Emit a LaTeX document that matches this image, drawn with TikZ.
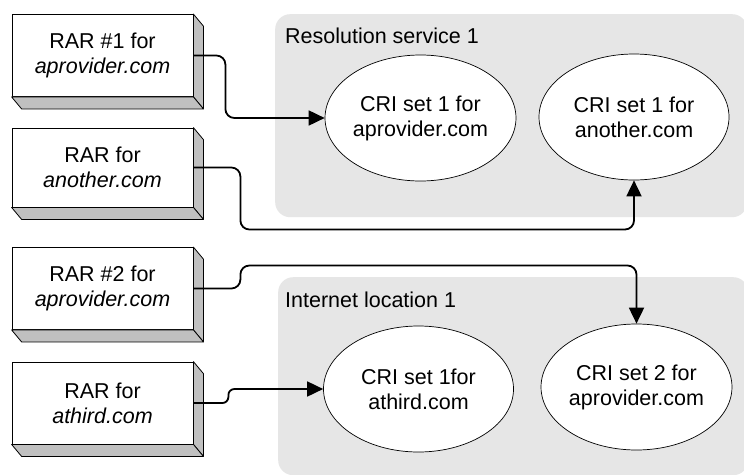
\documentclass[tikz,border=0pt]{standalone}
\usepackage{fontspec}
\setmainfont{Liberation Sans}
\usetikzlibrary{shapes.geometric,arrows.meta}
\definecolor{regiongray}{HTML}{E6E6E6}
\definecolor{sidegray}{HTML}{C0C0C0}
\tikzset{
  rarbox/.style={draw=black, line width=0.8pt, fill=white, rectangle, minimum width=181pt, minimum height=82pt, inner sep=0pt, align=center},
  sideface/.style={draw=black, line width=0.8pt, fill=sidegray, line join=round},
  region/.style={fill=regiongray, rounded corners=15pt, rectangle, inner sep=0pt, anchor=north west},
  regiontitle/.style={anchor=west, inner sep=0pt},
  crinode/.style={draw=black, line width=0.7pt, fill=white, ellipse, minimum width=190pt, minimum height=126pt, inner sep=0pt, align=center},
  conn/.style={draw=black, line width=1.8pt, -{Triangle[length=16pt,width=15pt]}, rounded corners=9pt},
}
\newcommand{\rarfaces}[1]{%
  \path[sideface] (#1.north east) -- ++(10,12) -- ([shift={(10,12)}]#1.south east) -- (#1.south east) -- cycle;
  \path[sideface] (#1.south west) -- (#1.south east) -- ++(10,12) -- ([shift={(10,12)}]#1.south west) -- cycle;
}
\begin{document}
\begin{tikzpicture}[x=1pt, y=-1pt, font=\fontsize{21.5}{25}\selectfont]
\useasboundingbox (0,0) rectangle (744,474);
\fill[white] (0,0) rectangle (744,474);
% regions
\node[region, minimum width=472pt, minimum height=203pt] (r1) at (275,14) {};
\node[region, minimum width=470pt, minimum height=198pt] (r2) at (278,277) {};
\node[regiontitle] (t1) at (285,36) {Resolution service 1};
\node[regiontitle] (t2) at (285,300) {Internet location 1};
% boxes
\node[rarbox] (b1) at (102.5,55.5) {RAR \#1 for\\\textit{aprovider.com}};
\node[rarbox, minimum height=79pt] (b2) at (102.5,167.5) {RAR for\\\textit{another.com}};
\node[rarbox] (b3) at (102.5,288.5) {RAR \#2 for\\\textit{aprovider.com}};
\node[rarbox] (b4) at (102.5,403) {RAR for\\\textit{athird.com}};
\rarfaces{b1}
\rarfaces{b2}
\rarfaces{b3}
\rarfaces{b4}
% ellipses
\node[crinode] (e1) at (420.5,118) {CRI set 1 for\\aprovider.com};
\node[crinode] (e2) at (634,117) {CRI set 1 for\\another.com};
\node[crinode] (e3) at (418.5,389) {CRI set 1for\\athird.com};
\node[crinode] (e4) at (636.5,387) {CRI set 2 for\\aprovider.com};
% connectors
\draw[conn] (b1.east) -- ++(32,0) |- (e1.west);
\draw[conn] (b2.east) -- ++(47,0) -- ++(0,62) -| (e2.south);
\draw[conn] (b3.east) -- ++(47,0) -- ++(0,-23) -| (e4.north);
\draw[conn, rounded corners=6pt] (b4.east) -- ++(35,0) -- ++(0,-14) -- (e3.west);
\end{tikzpicture}
\end{document}
